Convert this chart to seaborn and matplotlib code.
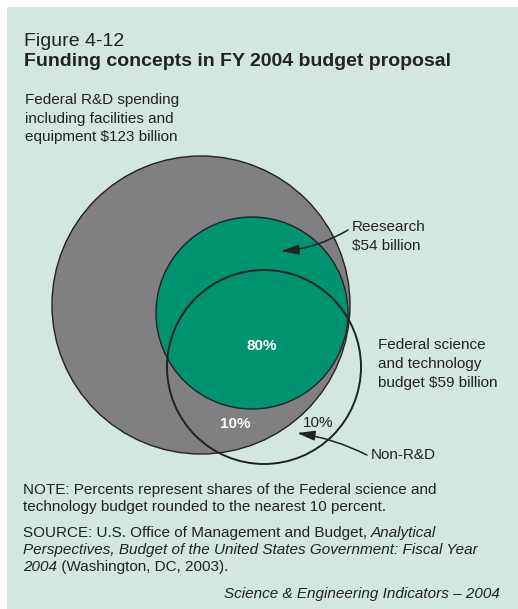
"""Funding concepts in FY 2004 budget proposal (Figure 4-12)
"""
import pandas as pd
import seaborn as sns
import matplotlib.pyplot as plt
from matplotlib.patches import Circle, Rectangle

# Data
categories = ['Federal R&D spending', 'Research', 'Federal S&T budget']
values_bn = [123, 54, 59]
share_labels = ['80%', '10%', '10%']

# layout (pixel units, y down)
W, H = 518, 609
centers = [(201, 305), (252, 313), (264, 367)]
radii = [149, 96, 97]
bg = '#d3e6df'
grey = '#808083'
green = '#00936f'
ink = '#222222'

sns.set_theme(style='white')
plt.rcParams['font.family'] = ['Liberation Sans', 'DejaVu Sans']

fig = plt.figure(figsize=(W / 100, H / 100), dpi=100, facecolor='white')
ax = fig.add_axes([0, 0, 1, 1])
ax.set_xlim(0, W)
ax.set_ylim(H, 0)
ax.axis('off')
ax.add_patch(Rectangle((7, 7), W - 7, H - 7, facecolor=bg, edgecolor='none', zorder=0))

df = pd.DataFrame({'name': categories, 'value': values_bn,
                   'cx': [c[0] for c in centers], 'cy': [c[1] for c in centers], 'r': radii})

# circles
fills = [grey, green, 'none']
for (_, row), fc in zip(df.iterrows(), fills):
    ax.add_patch(Circle((row.cx, row.cy), row.r, facecolor=fc, edgecolor=ink,
                        lw=1.0 if fc != 'none' else 1.4, zorder=2))

# titles
ax.text(24, 41, 'Figure 4-12', fontsize=14, color=ink, va='center')
ax.text(24, 61, 'Funding concepts in FY 2004 budget proposal', fontsize=14,
        fontweight='bold', color=ink, va='center')

fs = 11
for i, line in enumerate(['Federal R&D spending', 'including facilities and',
                          'equipment ${} billion'.format(values_bn[0])]):
    ax.text(25, 100 + i * 18.5, line, fontsize=fs, color=ink, va='center')

for i, line in enumerate(['Reesearch', '${} billion'.format(values_bn[1])]):
    ax.text(352, 227 + i * 19, line, fontsize=fs, color=ink, va='center')

for i, line in enumerate(['Federal science', 'and technology',
                          'budget ${} billion'.format(values_bn[2])]):
    ax.text(378, 345 + i * 19, line, fontsize=fs, color=ink, va='center')

ax.text(371, 455, 'Non-R&D', fontsize=fs, color=ink, va='center')

# shares
ax.text(262, 346, share_labels[0], fontsize=fs, color='white', fontweight='bold',
        ha='center', va='center', zorder=5)
ax.text(235, 424, share_labels[1], fontsize=fs, color='white', fontweight='bold',
        ha='center', va='center', zorder=5)
ax.text(318, 423, share_labels[2], fontsize=fs, color=ink,
        ha='center', va='center', zorder=5)

# arrows
arrow = dict(arrowstyle='-|>,head_length=0.9,head_width=0.25', color=ink, lw=1.1,
             shrinkA=0, shrinkB=0)
ax.annotate('', xy=(281, 251), xytext=(348, 230),
            arrowprops=dict(arrow, connectionstyle='arc3,rad=-0.12'), zorder=6)
ax.annotate('', xy=(297, 433), xytext=(367, 455),
            arrowprops=dict(arrow, connectionstyle='arc3,rad=0.08'), zorder=6)

# notes
for i, line in enumerate(['NOTE: Percents represent shares of the Federal science and',
                          'technology budget rounded to the nearest 10 percent.']):
    ax.text(23, 490 + i * 17.5, line, fontsize=fs, color=ink, va='center')

src1 = ax.text(23, 533, 'SOURCE: U.S. Office of Management and Budget, ', fontsize=fs,
               color=ink, va='center')
ax.annotate('Analytical', xycoords=src1, xy=(1, 0.5), va='center', fontsize=fs,
            color=ink, style='italic')
ax.text(23, 550, 'Perspectives, Budget of the United States Government: Fiscal Year',
        fontsize=fs, color=ink, va='center', style='italic')
src3 = ax.text(23, 567, '2004', fontsize=fs, color=ink, va='center', style='italic')
ax.annotate(' (Washington, DC, 2003).', xycoords=src3, xy=(1, 0.5), va='center',
            fontsize=fs, color=ink)

ax.text(500, 594, 'Science & Engineering Indicators \u2013 2004', fontsize=fs,
        color=ink, va='center', ha='right', style='italic')

fig.savefig('out.png', dpi=100, facecolor='white')
